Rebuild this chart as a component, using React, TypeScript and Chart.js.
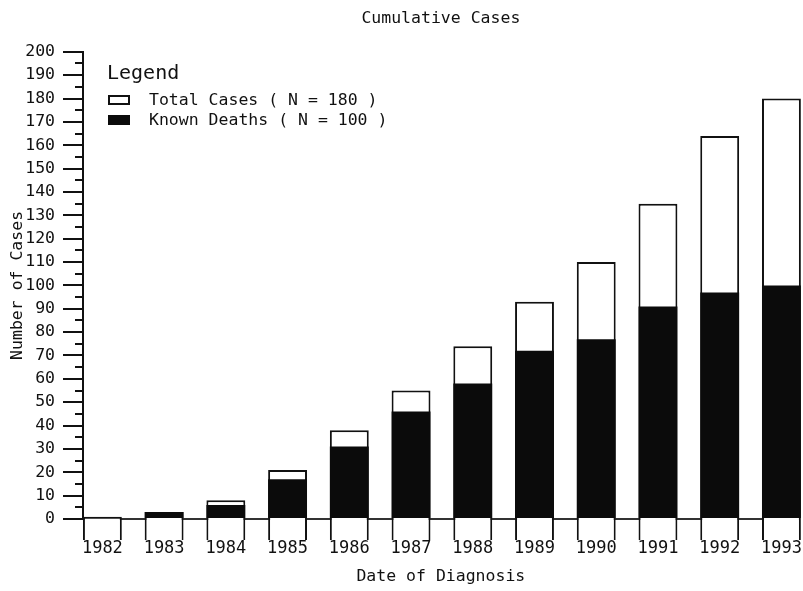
import React, { useEffect, useRef } from "react";
import { Chart, registerables } from "chart.js";

Chart.register(...registerables);

const YEARS = [1982, 1983, 1984, 1985, 1986, 1987, 1988, 1989, 1990, 1991, 1992, 1993];
const TOTAL_CASES = [1, 3, 8, 21, 38, 55, 74, 93, 110, 135, 164, 180];
const KNOWN_DEATHS = [0, 3, 6, 17, 31, 46, 58, 72, 77, 91, 97, 100];
const MINOR_TICKS = [5, 15, 25, 35, 45, 55, 65, 75, 85, 95, 105, 115, 125, 135, 145, 155, 165, 175, 185, 195];

const TITLE = "Cumulative Cases";
const X_TITLE = "Date of Diagnosis";
const Y_TITLE = "Number of Cases";
const LEGEND_TITLE = "Legend";
const LEGEND_TOTAL = "Total Cases ( N = 180 )";
const LEGEND_DEATHS = "Known Deaths ( N = 100 )";

const MONO = "'DejaVu Sans Mono', 'Liberation Mono', monospace";
const INK = "#111";

const minorTickPlugin = {
  id: "minorTicks",
  afterDraw(chart: any) {
    const y = chart.scales.y;
    const ctx = chart.ctx;
    ctx.save();
    ctx.strokeStyle = INK;
    ctx.lineWidth = 2;
    MINOR_TICKS.forEach((v) => {
      const py = Math.round(y.getPixelForValue(v));
      ctx.beginPath();
      ctx.moveTo(y.right - 8, py);
      ctx.lineTo(y.right, py);
      ctx.stroke();
    });
    ctx.restore();
  },
};

export default function App() {
  const ref = useRef<HTMLCanvasElement | null>(null);

  useEffect(() => {
    if (!ref.current) return;
    const chart = new Chart(ref.current, {
      type: "bar",
      data: {
        datasets: [
          {
            label: "Known Deaths",
            data: YEARS.map((yr, i) => ({ x: yr, y: KNOWN_DEATHS[i] })),
            backgroundColor: "#0b0b0b",
            borderWidth: 0,
            grouped: false,
            clip: false,
          } as any,
          {
            label: "Total Cases",
            data: YEARS.map((yr, i) => ({ x: yr, y: TOTAL_CASES[i] })),
            backgroundColor: "#ffffff",
            borderColor: INK,
            borderWidth: 2,
            borderSkipped: "start",
            base: -9,
            grouped: false,
            clip: false,
          } as any,
        ],
      },
      options: {
        animation: false,
        responsive: false,
        maintainAspectRatio: false,
        layout: { padding: { left: 0, right: 0, top: 0, bottom: 0 } },
        datasets: {
          bar: { categoryPercentage: 1, barPercentage: 0.63 },
        },
        plugins: {
          legend: { display: false },
          tooltip: { enabled: false },
          title: {
            display: true,
            text: TITLE,
            fullSize: false,
            color: INK,
            font: { family: MONO, size: 16.5, weight: "normal" },
            padding: { top: 9, bottom: 23 },
          },
        },
        scales: {
          x: {
            type: "linear",
            offset: false,
            min: 1981.686,
            max: 1993.28,
            grid: { display: false, drawTicks: true, tickLength: 18, offset: false },
            border: { display: false },
            afterBuildTicks: (scale: any) => {
              scale.ticks = YEARS.map((v) => ({ value: v }));
            },
            afterFit: (scale: any) => {
              scale.height = 72;
            },
            ticks: {
              autoSkip: false,
              maxRotation: 0,
              padding: 1,
              color: INK,
              font: { family: MONO, size: 17 },
              callback: (v: any) => String(v),
            },
            title: {
              display: true,
              text: X_TITLE,
              color: INK,
              font: { family: MONO, size: 16.5 },
              padding: { top: 0, bottom: 4 },
            },
          },
          y: {
            min: 0,
            max: 200,
            z: 1,
            afterFit: (scale: any) => {
              scale.width = 83;
            },
            ticks: {
              stepSize: 10,
              padding: 8,
              color: INK,
              font: { family: MONO, size: 16.5 },
            },
            grid: {
              drawOnChartArea: true,
              tickLength: 20,
              tickWidth: 2,
              tickColor: INK,
              lineWidth: 2,
              color: (ctx: any) => (ctx.tick && ctx.tick.value === 0 ? "#333" : "rgba(0,0,0,0)"),
            },
            border: { display: true, color: INK, width: 2 },
            title: {
              display: true,
              text: Y_TITLE,
              color: INK,
              font: { family: MONO, size: 16.5 },
              padding: { top: 8, bottom: 0 },
            },
          },
        },
      } as any,
      plugins: [minorTickPlugin],
    });
    return () => chart.destroy();
  }, []);

  const boxBase: React.CSSProperties = {
    position: "absolute",
    left: 108,
    width: 22,
    boxSizing: "border-box",
  };
  const textBase: React.CSSProperties = {
    position: "absolute",
    left: 149,
    fontFamily: MONO,
    fontSize: 16.5,
    lineHeight: "20px",
    color: INK,
    whiteSpace: "pre",
  };

  return (
    <div
      style={{
        position: "absolute",
        left: 0,
        top: 0,
        width: 803,
        height: 591,
        overflow: "hidden",
        background: "#fff",
      }}
    >
      <canvas ref={ref} width={803} height={591} style={{ display: "block" }} />
      <div
        style={{
          position: "absolute",
          left: 107,
          top: 60,
          fontFamily: MONO,
          fontSize: 20,
          lineHeight: "24px",
          color: INK,
        }}
      >
        {LEGEND_TITLE}
      </div>
      <div style={{ ...boxBase, top: 95, height: 10, border: `2px solid ${INK}`, background: "#fff" }} />
      <div style={{ ...textBase, top: 90 }}>{LEGEND_TOTAL}</div>
      <div style={{ ...boxBase, top: 115, height: 10, background: "#0b0b0b" }} />
      <div style={{ ...textBase, top: 110 }}>{LEGEND_DEATHS}</div>
    </div>
  );
}
